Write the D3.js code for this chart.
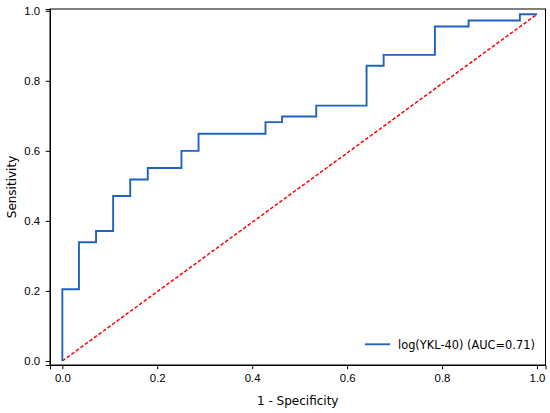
<!DOCTYPE html>
<html>
<head>
<meta charset="utf-8">
<script src="https://cdn.jsdelivr.net/npm/d3@7"></script>
<style>
  body { margin: 0; background: #fff; }
  svg { display: block; font-family: "DejaVu Sans", sans-serif; }
  .tick text { font-size: 11.4px; fill: #000; }
  .tick line, .domain { stroke: #000; }
</style>
</head>
<body>
<svg id="chart" width="550" height="413"></svg>
<script>
// ROC curve
var fpr = [0, 0, 0.035, 0.035, 0.071, 0.071, 0.107, 0.107, 0.143, 0.143, 0.180, 0.180,
           0.251, 0.251, 0.287, 0.287, 0.428, 0.428, 0.463, 0.463, 0.535, 0.535,
           0.641, 0.641, 0.677, 0.677, 0.785, 0.785, 0.856, 0.856, 0.964, 0.964, 1.0];
var tpr = [0, 0.205, 0.205, 0.339, 0.339, 0.371, 0.371, 0.471, 0.471, 0.518, 0.518, 0.551,
           0.551, 0.600, 0.600, 0.649, 0.649, 0.682, 0.682, 0.698, 0.698, 0.729,
           0.729, 0.843, 0.843, 0.874, 0.874, 0.955, 0.955, 0.972, 0.972, 0.990, 0.990];
var diagX = [0, 1];
var diagY = [0, 0.99];
var ticks = [0, 0.2, 0.4, 0.6, 0.8, 1.0];
var legendLabel = "log(YKL-40) (AUC=0.71)";

var svg = d3.select("#chart");
var frame = {left: 50, right: 545.5, top: 9, bottom: 365};

var x = d3.scaleLinear().domain([-0.026, 1.018]).range([frame.left, frame.right]);
var y = d3.scaleLinear().domain([-0.0115, 1.005]).range([frame.bottom, frame.top]);

var line = d3.line()
    .x(function(d){return x(d[0]);})
    .y(function(d){return y(d[1]);});

// red chance line
svg.append("path")
    .datum(diagX.map(function(v, i){return [v, diagY[i]];}))
    .attr("d", line)
    .attr("fill", "none")
    .attr("stroke", "#ff0000")
    .attr("stroke-width", 1.5)
    .attr("stroke-dasharray", "3.6,2");

// blue ROC step curve
svg.append("path")
    .datum(fpr.map(function(v, i){return [v, tpr[i]];}))
    .attr("d", line)
    .attr("fill", "none")
    .attr("stroke", "#1f62c4")
    .attr("stroke-width", 1.9);

// axes
svg.append("g")
    .attr("transform", "translate(0," + frame.bottom + ")")
    .call(d3.axisBottom(x).tickValues(ticks).tickFormat(d3.format(".1f"))
          .tickSizeOuter(0).tickSize(4.3).tickPadding(4.5));
svg.append("g")
    .attr("transform", "translate(" + frame.left + ",0)")
    .call(d3.axisLeft(y).tickValues(ticks).tickFormat(d3.format(".1f"))
          .tickSizeOuter(0).tickSize(4.3).tickPadding(5.5));

// frame
svg.append("rect")
    .attr("x", frame.left).attr("y", frame.top)
    .attr("width", frame.right - frame.left)
    .attr("height", frame.bottom - frame.top)
    .attr("fill", "none")
    .attr("stroke", "#000")
    .attr("stroke-width", 1);

// labels
svg.append("text")
    .attr("x", (frame.left + frame.right) / 2)
    .attr("y", 405)
    .attr("text-anchor", "middle")
    .attr("font-size", "12px")
    .text("1 - Specificity");
svg.append("text")
    .attr("transform", "translate(16," + (frame.top + frame.bottom) / 2 + ") rotate(-90)")
    .attr("text-anchor", "middle")
    .attr("font-size", "12px")
    .text("Sensitivity");

// legend
var lg = svg.append("g").attr("transform", "translate(365,344.3)");
lg.append("line")
    .attr("x1", 0).attr("x2", 25)
    .attr("stroke", "#1f62c4")
    .attr("stroke-width", 1.9);
lg.append("text")
    .attr("x", 33).attr("y", 4.2)
    .attr("font-size", "11.4px")
    .text(legendLabel);
</script>
</body>
</html>
